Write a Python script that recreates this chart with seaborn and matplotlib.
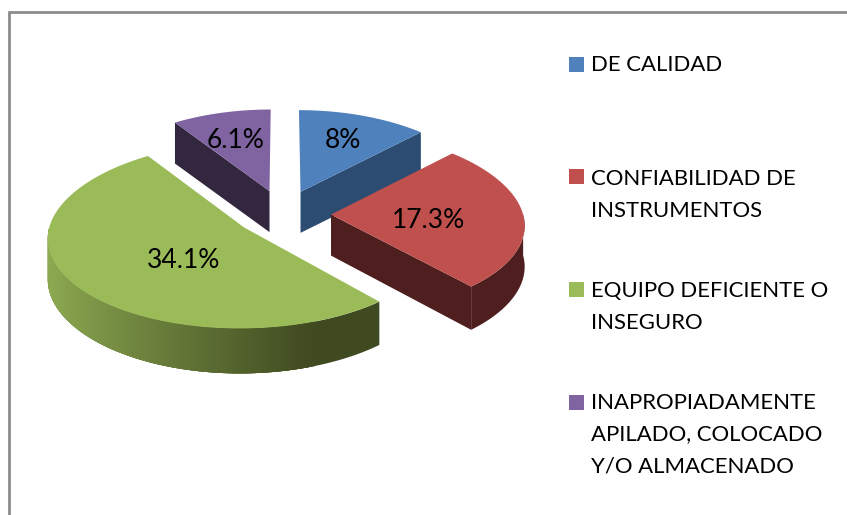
import numpy as np
import seaborn as sns
import matplotlib.pyplot as plt
from matplotlib.patches import Rectangle

categories = [
    "DE CALIDAD",
    "CONFIABILIDAD DE\nINSTRUMENTOS",
    "EQUIPO DEFICIENTE O\nINSEGURO",
    "INAPROPIADAMENTE\nAPILADO, COLOCADO\nY/O ALMACENADO",
]
values = [8, 17.3, 34.1, 6.1]
value_labels = ["8%", "17.3%", "34.1%", "6.1%"]

top_colors = ["#4F81BD", "#C0504D", "#9BBB59", "#8064A2"]
wall_colors = ["#2D4C72", "#4E1F1E", "#3F4A20", "#33263F"]
wall_light = ["#2D4C72", "#4E1F1E", "#8FAC52", "#33263F"]

# fake 3d settings, all in pixels of the 847x515 picture
center_x, center_y = 283, 214
radius = 192
explode = 0.25
far_push = 1.1  # back slices sit a bit further up
squash = 0.458
persp = 0.1
depth = 41

label_pos = [(343, 140), (429, 221), (184, 260), (236, 140)]
legend_y = [65, 195, 307, 434.5]
key_y = [64.5, 176.5, 289.5, 402.5]
font = "Lato"
legend_size = 15.9
value_size = 19


def project(wx, wy, drop=0.0):
    wy = np.asarray(wy, dtype=float)
    s = 1 / (1 + persp * wy)
    # less foreshortening in y on the far half
    s_y = 1 / (1 + np.where(wy > 0, persp / 2, persp) * wy)
    return center_x + radius * wx * s, center_y - radius * squash * wy * s_y + drop


def near_depth(a):
    return depth + 4 * np.maximum(0, -np.cos(a)) ** 2


sns.set_theme(style="white")
palette = sns.color_palette(top_colors)
dark = sns.color_palette(wall_colors)
light = sns.color_palette(wall_light)

fig, ax = plt.subplots(figsize=(8.47, 5.15), dpi=100)
fig.subplots_adjust(0, 0, 1, 1)
ax.set_xlim(0, 847)
ax.set_ylim(515, 0)
ax.axis("off")

# chart frame
ax.plot([9, 9], [515, 12], color="#8C8C8C", lw=2)
ax.plot([9, 847], [12, 12], color="#8C8C8C", lw=2)

shares = np.array(values) / np.sum(values) * 2 * np.pi
ends = np.cumsum(shares)
starts = ends - shares
# which radial edge of each slice shows its wall: blue end, red end, purple start
wall_edge = [ends[0], ends[1], None, starts[3]]

# far slices first, red goes over the blue wall
for i in [3, 0, 2, 1]:
    a0, a1 = starts[i], ends[i]
    mid = (a0 + a1) / 2
    off_x = explode * np.sin(mid)
    off_y = explode * np.cos(mid)
    if off_y > 0:
        off_y *= far_push
    apex_x, apex_y = project(off_x, off_y)

    if wall_edge[i] is not None:
        a = wall_edge[i]
        ex, ey = project(np.sin(a) + off_x, np.cos(a) + off_y)
        ax.fill([apex_x, ex, ex, apex_x], [apex_y, ey, ey + near_depth(a), apex_y + depth],
                color=dark[i], lw=0)

    # outer wall, only the part on the near side
    lo, hi = max(a0, np.pi / 2), min(a1, 1.5 * np.pi)
    if hi > lo:
        th = np.linspace(lo, hi, 200)
        wx, wy = project(np.sin(th) + off_x, np.cos(th) + off_y)
        ax.fill(np.r_[wx, wx[::-1]], np.r_[wy, (wy + near_depth(th))[::-1]],
                color=dark[i], lw=0)
        # shading left to right, strips overlap the next one so no seams show
        for k in range(len(th) - 1, 0, -1):
            t = (np.sin(th[k]) + 1) / 1.35
            if t >= 1:
                continue
            col = np.array(light[i]) * (1 - t) + np.array(dark[i]) * t
            j = min(k + 2, len(th) - 1)
            ax.fill([wx[k - 1], wx[j], wx[j], wx[k - 1]],
                    [wy[k - 1], wy[j], wy[j] + near_depth(th[j]), wy[k - 1] + near_depth(th[k - 1])],
                    color=col, lw=0)

    # top face
    th = np.linspace(a0, a1, 120)
    px, py = project(np.sin(th) + off_x, np.cos(th) + off_y)
    ax.fill(np.r_[apex_x, px], np.r_[apex_y, py], color=palette[i], lw=0)

for (x, y), txt in zip(label_pos, value_labels):
    ax.text(x, y, txt, ha="center", va="center", fontsize=value_size,
            family=font, color="black")

# legend keys and labels
for y, ky, cat, col in zip(legend_y, key_y, categories, palette):
    ax.add_patch(Rectangle((569, ky - 7.5), 15, 15, color=col, lw=0))
    ax.text(591, y, cat, ha="left", va="center", fontsize=legend_size,
            family=font, color="black", linespacing=1.72)

fig.savefig("out.png", dpi=100)
